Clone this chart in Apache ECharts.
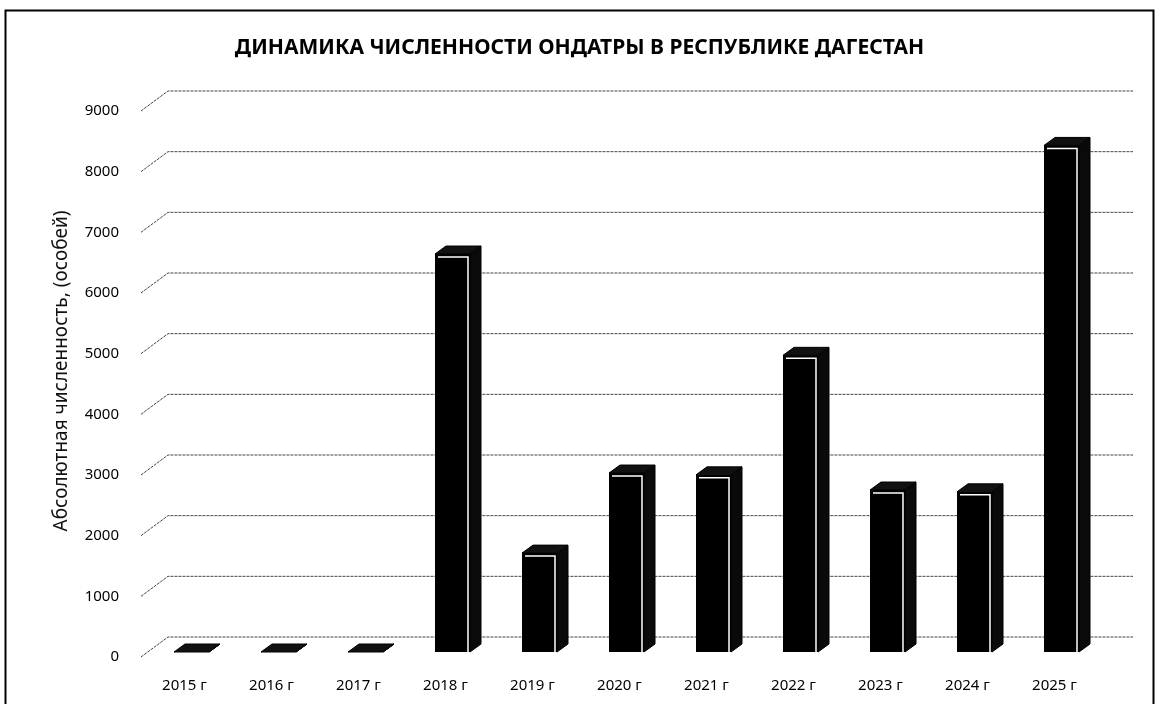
<!DOCTYPE html>
<html>
<head>
<meta charset="utf-8">
<script src="https://cdn.jsdelivr.net/npm/echarts@6/dist/echarts.min.js"></script>
<style>html,body{margin:0;padding:0;background:#fff;}#c{width:1159px;height:704px;}</style>
</head>
<body>
<div id="c"></div>
<script>
const categories = ['2015 г','2016 г','2017 г','2018 г','2019 г','2020 г','2021 г','2022 г','2023 г','2024 г','2025 г'];
const values = [0, 0, 0, 6560, 1630, 2950, 2920, 4890, 2670, 2640, 8350];
const yTicks = [0,1000,2000,3000,4000,5000,6000,7000,8000,9000];
const titleText = 'ДИНАМИКА ЧИСЛЕННОСТИ ОНДАТРЫ В РЕСПУБЛИКЕ ДАГЕСТАН';
const yName = 'Абсолютная численность, (особей)';

const FONT = '"Noto Sans", "Open Sans", sans-serif';
const chart = echarts.init(document.getElementById('c'));

// 3D geometry
const WALL_DX = 27, WALL_DY = 20;   // back wall offset
const BAR_SHIFT_X = 7, BAR_SHIFT_Y = 5; // bar front plane set back
const DX = 11, DY = 8;              // bar depth
const FRONT_W = 35;

chart.setOption({
  backgroundColor: '#fff',
  animation: false,
  title: {
    text: titleText, left: 'center', top: 33,
    textStyle: {fontFamily: FONT, fontSize: 21, fontWeight: 'bold', color: '#000'}
  },
  grid: {left: 141, right: 61, top: 111, bottom: 47, containLabel: false},
  xAxis: {
    type: 'category', data: categories,
    axisLine: {show: false}, axisTick: {show: false},
    axisLabel: {fontFamily: FONT, fontSize: 15, color: '#000', margin: 21}
  },
  yAxis: {
    type: 'value', min: 0, max: 9000, interval: 1000,
    axisLine: {show: false}, axisTick: {show: false}, splitLine: {show: false},
    axisLabel: {fontFamily: FONT, fontSize: 15, color: '#000', margin: 22, formatter: v => String(v)}
  },
  graphic: [
    {type: 'rect', shape: {x: 5.5, y: 10.5, width: 1148, height: 700}, style: {fill: 'none', stroke: '#000', lineWidth: 2}, silent: true},
    {type: 'text', x: 62, y: 371, rotation: Math.PI / 2,
     style: {text: yName, fontFamily: FONT, fontSize: 19, fill: '#111', align: 'center', verticalAlign: 'middle'}}
  ],
  series: [
    {
      type: 'custom', z: 1, silent: true,
      data: yTicks.map(v => [0, v]),
      renderItem: function (params, api) {
        const cs = params.coordSys;
        const y = api.coord([0, api.value(1)])[1];
        const x0 = cs.x;
        const x1 = cs.x + cs.width + WALL_DX + 8;
        return {
          type: 'polyline',
          shape: {points: [[x0, y], [x0 + WALL_DX, y - WALL_DY], [x1, y - WALL_DY]]},
          style: {stroke: '#444', lineWidth: 1, lineDash: [3, 1], fill: null}
        };
      }
    },
    {
      type: 'custom', z: 5, silent: true,
      data: values.map((v, i) => [i, v]),
      renderItem: function (params, api) {
        const i = api.value(0), v = api.value(1);
        const top = api.coord([i, v]);
        const base = api.coord([i, 0]);
        const cx = base[0] + BAR_SHIFT_X;
        const l = cx - FRONT_W / 2, r = cx + FRONT_W / 2;
        const b = base[1] - BAR_SHIFT_Y;
        const t = top[1] - BAR_SHIFT_Y;
        const children = [];
        children.push({type: 'polygon', shape: {points: [[r, t], [r + DX, t - DY], [r + DX, b - DY], [r, b]]},
          style: {fill: '#0a0a0a', stroke: '#000', lineWidth: 1}});
        children.push({type: 'polygon', shape: {points: [[l, t], [l + DX, t - DY], [r + DX, t - DY], [r, t]]},
          style: {fill: '#111', stroke: '#000', lineWidth: 1}});
        if (b - t > 1) {
          children.push({type: 'rect', shape: {x: l, y: t, width: FRONT_W, height: b - t},
            style: {fill: '#000'}});
          children.push({type: 'polyline', shape: {points: [[l + 3, t + 3], [r - 2, t + 3], [r - 2, b]]},
            style: {stroke: '#fff', lineWidth: 1.5, fill: null}});
        }
        return {type: 'group', children: children};
      }
    }
  ]
});
</script>
</body>
</html>
